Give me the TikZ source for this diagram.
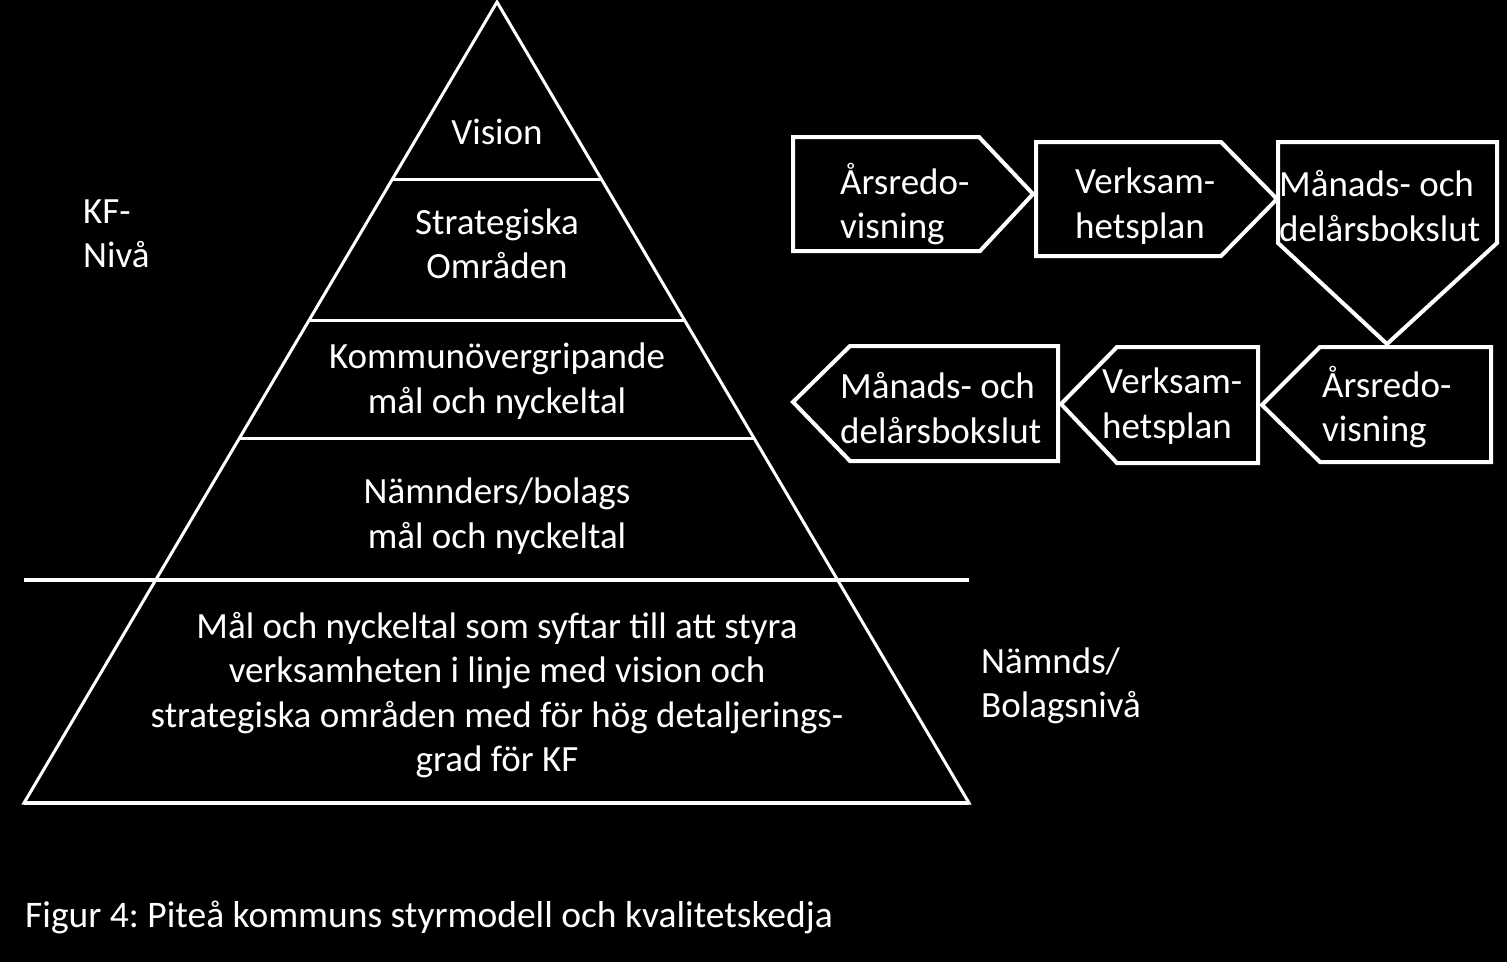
\documentclass[tikz,border=0pt]{standalone}
\usepackage{fontspec}
\setmainfont{Carlito}
\frenchspacing
\tikzset{
  x=1pt, y=-1pt,
  txt/.style={text=white, font=\fontsize{37}{44.5}\selectfont, inner sep=0pt, align=center},
  ltxt/.style={text=white, font=\fontsize{37}{44.5}\selectfont, inner sep=0pt, align=left, anchor=west},
  pyr/.style={draw=white, line width=3pt, line join=miter},
  sep/.style={draw=white, line width=3pt},
  chev/.style={draw=white, line width=4pt, line join=miter, fill=black}
}
\begin{document}
\begin{tikzpicture}
\fill[black] (0,0) rectangle (1507,962);
\useasboundingbox (0,0) rectangle (1507,962);
% pyramid
\coordinate (apex) at (497,2);
\coordinate (bl) at (24,803);
\coordinate (br) at (969,803);
\draw[pyr] (apex) -- (br) -- (bl) -- cycle;
\draw[sep] (392,179) -- (602,179);
\draw[sep] (309,320) -- (685,320);
\draw[sep] (239,438) -- (755,438);
\draw[draw=white, line width=4pt] (24,580) -- (969,580);
\draw[draw=white, line width=4pt] (bl) -- (br);
% pyramid texts
\node[txt] (vision) at (497,132) {Vision};
\node[txt] (strat) at (497,244) {Strategiska\\Områden};
\node[txt] (komm) at (497,381) {Kommunövergripande\\mål och nyckeltal};
\node[txt] (namnd) at (497,516) {Nämnders/bolags\\mål och nyckeltal};
\node[txt] (mal) at (497,695) {Mål och nyckeltal som syftar till att styra\\verksamheten i linje med vision och\\strategiska områden med för hög detaljerings-\\grad för KF};
\node[ltxt] (kf) at (83,234) {KF-\\Nivå};
\node[ltxt] (nb) at (981,686) {Nämnds/\\Bolagsnivå};
\node[ltxt, font=\fontsize{37.5}{45}\selectfont] (cap) at (25,917) {Figur 4: Piteå kommuns styrmodell och kvalitetskedja};
% top chevrons
\draw[chev] (793,137) -- (979,137) -- (1033,194) -- (980,251) -- (793,251) -- cycle;
\draw[chev] (1036,142) -- (1221,142) -- (1277,199) -- (1221,256) -- (1036,256) -- cycle;
\draw[chev] (1278,142) -- (1497,142) -- (1497,243) -- (1387,344) -- (1278,243) -- cycle;
% bottom chevrons
\draw[chev] (1491,347) -- (1320,347) -- (1262,405) -- (1320,462) -- (1491,462) -- cycle;
\draw[chev] (1258,347) -- (1117,347) -- (1061,404) -- (1117,463) -- (1258,463) -- cycle;
\draw[chev] (1058,346) -- (850,346) -- (793,402) -- (850,461) -- (1058,461) -- cycle;
% chevron texts
\node[ltxt] (c1) at (840,204) {Årsredo-\\visning};
\node[ltxt] (c2) at (1075,206) {Verksam-\\hetsplan};
\node[ltxt] (c3) at (1279,206) {Månads- och\\delårsbokslut};
\node[ltxt] (c4) at (1322,407) {Årsredo-\\visning};
\node[ltxt] (c5) at (1102,406) {Verksam-\\hetsplan};
\node[ltxt] (c6) at (840,408) {Månads- och\\delårsbokslut};
\end{tikzpicture}
\end{document}
